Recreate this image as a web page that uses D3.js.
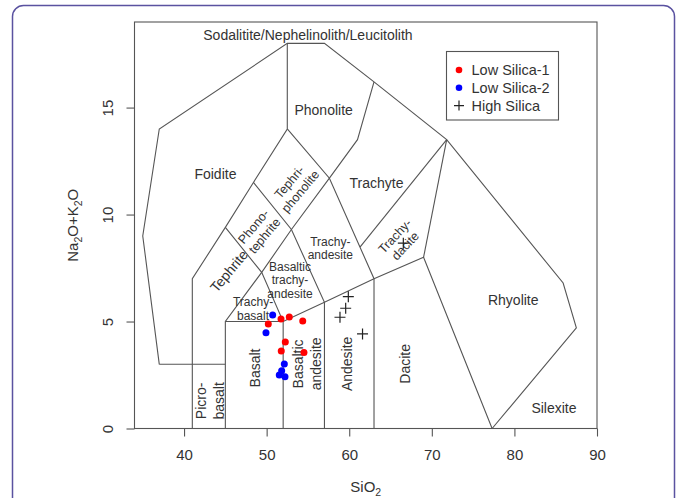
<!DOCTYPE html>
<html>
<head>
<meta charset="utf-8">
<script src="https://cdn.jsdelivr.net/npm/d3@7"></script>
<style>
  body { margin: 0; background: #fff; }
  svg { display: block; font-family: "Liberation Sans", Arial, sans-serif; }
</style>
</head>
<body>
<svg></svg>
<script>
// TAS diagram (total alkali vs silica)
const w = 678;
const h = 498;

// sample data: SiO2 (x) and Na2O+K2O (y)
const lowSilica1X = [50.2, 51.74, 52.74, 54.37, 52.26, 51.77, 54.52];
const lowSilica1Y = [4.89, 5.12, 5.21, 5.03, 4.04, 3.62, 3.55];
const lowSilica2X = [50.73, 49.92, 52.14, 51.82, 51.53, 52.22];
const lowSilica2Y = [5.31, 4.48, 3.02, 2.70, 2.50, 2.42];
const highSilicaX = [59.89, 59.57, 58.88, 61.61, 66.55];
const highSilicaY = [6.16, 5.62, 5.20, 4.42, 8.66];

const xTicks = [40, 50, 60, 70, 80, 90];
const yTicks = [0, 5, 10, 15];
const legendNames = ["Low Silica-1", "Low Silica-2", "High Silica"];

// field boundaries, in SiO2 / alkali units
const fieldLines = [
  [[37, 3], [35, 9], [37, 14], [52.5, 18], [57, 18], [63, 16.2], [71.8, 13.5], [85.9, 6.8], [87.5, 4.7], [77.3, 0]],
  [[37, 3], [45, 3]],
  [[41, 0], [41, 7], [45, 9.4], [48.4, 11.5], [52.5, 14], [52.5, 18]],
  [[45, 0], [45, 5], [49.4, 7.3], [53, 9.3], [57.6, 11.7], [61, 13.5], [63, 16.2]],
  [[45, 9.4], [49.4, 7.3], [52, 5], [52, 0]],
  [[48.4, 11.5], [53, 9.3], [57, 5.9], [57, 0]],
  [[52.5, 14], [57.6, 11.7], [63, 7], [63, 0]],
  [[45, 5], [52, 5], [57, 5.9], [63, 7], [69, 8], [77.3, 0]],
  [[69, 8], [71.8, 13.5]],
  [[61.3, 8.48], [71.8, 13.5]]
];

// field names: lines of text, SiO2, alkali, angle
const fieldNames = [
  [["Sodalitite/Nephelinolith/Leucitolith"], 55.0, 18.4, 0],
  [["Phonolite"], 56.9, 14.9, 0],
  [["Foidite"], 43.8, 11.9, 0],
  [["Trachyte"], 63.3, 11.46, 0],
  [["Tephri-", "phonolite"], 53.4, 11.3, -50],
  [["Phono-", "tephrite"], 49.07, 9.23, -50],
  [["Tephrite"], 45.44, 7.36, -50],
  [["Trachy-", "andesite"], 57.71, 8.42, 0],
  [["Trachy-", "dacite"], 66.15, 8.77, -47],
  [["Basaltic", "trachy-", "andesite"], 52.83, 6.93, 0],
  [["Trachy-", "basalt"], 48.35, 5.58, 0],
  [["Picro-", "basalt"], 43.17, 1.29, -90],
  [["Basalt"], 48.58, 2.83, -90],
  [["Basaltic", "andesite"], 54.91, 3.02, -90],
  [["Andesite"], 59.69, 3.02, -90],
  [["Dacite"], 66.73, 3.02, -90],
  [["Rhyolite"], 79.86, 6.0, 0],
  [["Silexite"], 84.79, 0.94, 0]
];
const smallNames = ["Trachy-", "andesite", "Basaltic", "trachy-", "basalt"];

const svg = d3.select("svg").attr("width", w).attr("height", h);

// page card border
svg.append("rect")
  .attr("x", 12.5).attr("y", 5.5)
  .attr("width", 662).attr("height", 560)
  .attr("rx", 11)
  .attr("fill", "none")
  .attr("stroke", "#5a52a0")
  .attr("stroke-width", 1.5);

const xScale = d3.scaleLinear().domain([34, 90]).range([134.5, 597]);
const yScale = d3.scaleLinear().domain([0, 19]).range([428.5, 22]);

const ink = "#555";

// fields
const line = d3.line().x(d => xScale(d[0])).y(d => yScale(d[1]));
svg.append("g")
  .selectAll("path")
  .data(fieldLines)
  .enter()
  .append("path")
  .attr("d", line)
  .attr("fill", "none")
  .attr("stroke", ink)
  .attr("stroke-width", 1.1);

// field labels
const labels = svg.append("g")
  .selectAll("text")
  .data(fieldNames)
  .enter()
  .append("text")
  .attr("transform", d => `translate(${xScale(d[1])},${yScale(d[2])}) rotate(${d[3]})`)
  .attr("text-anchor", "middle")
  .attr("fill", "#333")
  .style("font-size", d => {
    const small = d[3] === 0 && d[0].length > 1 && d[0].every(s => smallNames.includes(s));
    return small ? "12px" : (d[0].length > 1 && d[3] !== -90 ? "12.5px" : "14px");
  });

labels.each(function (d) {
  const t = d3.select(this);
  const fs = parseFloat(t.style("font-size"));
  const lh = d[3] === -90 ? 18 : fs * 1.15;
  d[0].forEach((s, i) => {
    t.append("tspan")
      .attr("x", 0)
      .attr("y", (i - (d[0].length - 1) / 2) * lh)
      .attr("dy", "0.35em")
      .text(s);
  });
});

// box
svg.append("rect")
  .attr("x", 134.5).attr("y", 22)
  .attr("width", 597 - 134.5).attr("height", 428.5 - 22)
  .attr("fill", "none")
  .attr("stroke", ink)
  .attr("stroke-width", 1.1);

// axes
const xAxis = d3.axisBottom(xScale).tickValues(xTicks).tickSize(8).tickPadding(13).tickFormat(d3.format("d"));
const yAxis = d3.axisLeft(yScale).tickValues(yTicks).tickSize(8).tickFormat(d3.format("d"));

const gx = svg.append("g")
  .attr("transform", "translate(0," + 428.5 + ")")
  .call(xAxis);
const gy = svg.append("g")
  .attr("transform", "translate(" + 134.5 + ",0)")
  .call(yAxis);

[gx, gy].forEach(g => {
  g.select(".domain").remove();
  g.selectAll("line").attr("stroke", ink).attr("stroke-width", 1.1);
  g.selectAll("text")
    .attr("fill", "#333")
    .style("font-size", "15px")
    .style("font-family", "'Liberation Sans', Arial, sans-serif");
});
gy.selectAll("text")
  .attr("x", null)
  .attr("text-anchor", "middle")
  .attr("dy", "0.35em")
  .attr("transform", "translate(-27,0) rotate(-90)");

// axis titles
const xt = svg.append("text")
  .attr("x", (134.5 + 597) / 2)
  .attr("y", 492)
  .attr("text-anchor", "middle")
  .attr("fill", "#333")
  .style("font-size", "15px");
xt.append("tspan").text("SiO");
xt.append("tspan").attr("dy", 4).style("font-size", "10.5px").text("2");

const yt = svg.append("text")
  .attr("transform", "translate(78," + (22 + 428.5) / 2 + ") rotate(-90)")
  .attr("text-anchor", "middle")
  .attr("fill", "#333")
  .style("font-size", "15px");
yt.append("tspan").text("Na");
yt.append("tspan").attr("dy", 4).style("font-size", "10.5px").text("2");
yt.append("tspan").attr("dy", -4).text("O+K");
yt.append("tspan").attr("dy", 4).style("font-size", "10.5px").text("2");
yt.append("tspan").attr("dy", -4).text("O");

// points
const pts = (xs, ys) => xs.map((x, i) => [x, ys[i]]);

svg.append("g")
  .selectAll("circle")
  .data(pts(lowSilica1X, lowSilica1Y))
  .enter()
  .append("circle")
  .attr("cx", d => xScale(d[0]))
  .attr("cy", d => yScale(d[1]))
  .attr("r", 3.5)
  .attr("fill", "#f00");

svg.append("g")
  .selectAll("circle")
  .data(pts(lowSilica2X, lowSilica2Y))
  .enter()
  .append("circle")
  .attr("cx", d => xScale(d[0]))
  .attr("cy", d => yScale(d[1]))
  .attr("r", 3.5)
  .attr("fill", "#00f");

const plus = s => `M${-s},0H${s}M0,${-s}V${s}`;

svg.append("g")
  .selectAll("path")
  .data(pts(highSilicaX, highSilicaY))
  .enter()
  .append("path")
  .attr("transform", d => `translate(${xScale(d[0])},${yScale(d[1])})`)
  .attr("d", plus(5.5))
  .attr("stroke", "#222")
  .attr("stroke-width", 1.2);

// legend
const legend = svg.append("g").attr("transform", "translate(446.5,51.5)");
legend.append("rect")
  .attr("width", 112).attr("height", 68.5)
  .attr("fill", "#fff")
  .attr("stroke", ink)
  .attr("stroke-width", 1.1);
legendNames.forEach((name, i) => {
  const yy = 18.5 + i * 17.8;
  if (i < 2) {
    legend.append("circle").attr("cx", 12.5).attr("cy", yy).attr("r", 3.3).attr("fill", i === 0 ? "#f00" : "#00f");
  } else {
    legend.append("path").attr("transform", `translate(12.5,${yy})`).attr("d", plus(5)).attr("stroke", "#222").attr("stroke-width", 1.2);
  }
  legend.append("text")
    .attr("x", 25).attr("y", yy).attr("dy", "0.35em")
    .attr("fill", "#333")
    .style("font-size", "14.5px")
    .text(name);
});
</script>
</body>
</html>
